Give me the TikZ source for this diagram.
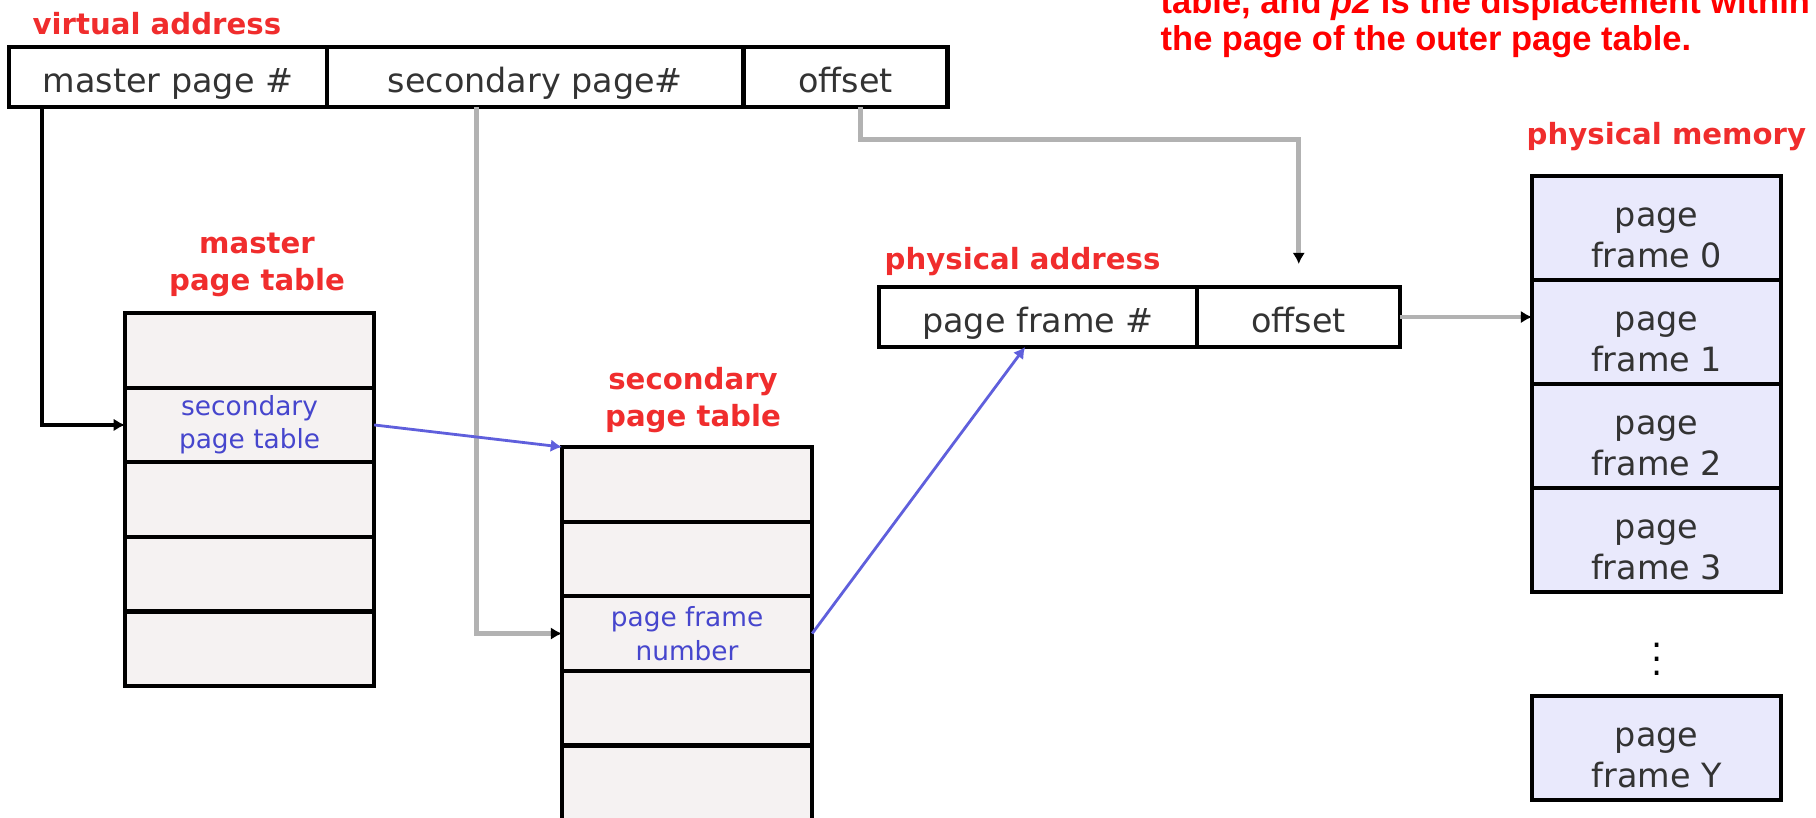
\documentclass[tikz,border=0pt]{standalone}
\usepackage{fontspec}
\setmainfont{DejaVu Sans}
\newfontfamily\notefont{Liberation Sans}
\usetikzlibrary{arrows.meta}

\definecolor{labelred}{RGB}{240,45,45}
\definecolor{notered}{RGB}{255,0,0}
\definecolor{entryblue}{RGB}{70,70,205}
\definecolor{linkblue}{RGB}{95,95,220}
\definecolor{tablefill}{RGB}{245,242,242}
\definecolor{memfill}{RGB}{233,233,252}

\tikzset{
  cell/.style={draw, line width=1.2pt, inner sep=0pt, outer sep=0pt, minimum height=6mm, text height=10.8pt, text depth=2.2pt, anchor=north west, text=black!80, font=\fontsize{9.5}{11.5}\selectfont},
  tabrow/.style={draw, line width=1.2pt, fill=tablefill, inner sep=0pt, outer sep=0pt, minimum width=2.49cm, minimum height=7.46mm, anchor=north west, align=center, text=entryblue, font=\fontsize{7.5}{9.5}\selectfont},
  framebox/.style={draw, line width=1.2pt, fill=memfill, inner sep=0pt, outer sep=0pt, minimum width=2.49cm, minimum height=10.4mm, text height=22.3pt, text depth=0pt, anchor=north west, align=center, text=black!80, font=\fontsize{9.5}{11.5}\selectfont},
  tag/.style={text=labelred, inner sep=0pt, align=center, font=\bfseries\fontsize{8.3}{10.5}\selectfont},
  blkline/.style={draw=black, line width=0.9pt, ->},
  gryline/.style={draw=black!30, line width=1.4pt, -{Latex[length=3.2pt,width=3.6pt,black]}},
  bluline/.style={draw=linkblue, line width=0.8pt, ->},
}

\begin{document}
\begin{tikzpicture}[x=0.01cm, y=-0.01cm, >={Latex[length=3.2pt,width=3.6pt]}]
	\useasboundingbox (0,0) rectangle (1816,817);
	
	% virtual address
	\node[tag, anchor=west] (vatag) at (32,24) {virtual address};
	\node[cell, minimum width=3.18cm] (va1) at (9,47) {master page \#};
	\node[cell, minimum width=4.16cm] (va2) at (va1.north east) {secondary page\#};
	\node[cell, minimum width=2.04cm] (va3) at (va2.north east) {offset};
	
	% master page table
	\node[tag] (mtag) at (257,265) {master\\page table};
	\foreach \i/\txt in {1/{},2/{secondary\\page table},3/{},4/{},5/{}}
	\node[tabrow] (m\i) at (125,{313+(\i-1)*74.6}) {\txt};
	
	% secondary page table
	\node[tag] (stag) at (693,400) {secondary\\page table};
	\foreach \i/\txt in {1/{},2/{},3/{page frame\\number},4/{},5/{}}
	\node[tabrow, minimum width=2.5cm] (s\i) at (562,{447+(\i-1)*74.6}) {\txt};
	
	% physical address
	\node[tag, anchor=west] (patag) at (884,262) {physical address};
	\node[cell, minimum width=3.18cm] (pa1) at (879,287) {page frame \#};
	\node[cell, minimum width=2.03cm] (pa2) at (pa1.north east) {offset};
	
	% physical memory
	\node[tag, anchor=west] (pmtag) at (1526,137) {physical memory};
	\foreach \i in {0,...,3}
	\node[framebox] (f\i) at (1532,{176+\i*104}) {page\\frame \i};
	\node (fdots) at (1657,649) {$\vdots$};
	\node[framebox] (fY) at (1532,696) {page\\frame Y};
	
	% note, cut at the top
	\node[anchor=base west, align=left, text=notered, inner sep=0pt, font=\notefont\bfseries\fontsize{9.8}{10.5}\selectfont] (note) at (1160,50) {table, and \textit{p2} is the displacement within\\the page of the outer page table.};
	
	% draw connectors
	\draw[blkline] ([xshift=3.3mm]va1.south west) |- (m2.west);
	\draw[gryline] ([xshift=14.9mm]va2.south west) |- (s3.west);
	\draw[gryline, shorten >=2.3mm] ([xshift=1.5mm]va3.south) -- ++(0,32) -| (pa2.north);
	\draw[gryline] (pa2.east) -- (pa2.east -| f1.west);
	\draw[bluline] (m2.east) -- (s1.north west);
	\draw[bluline] (s3.east) -- ([xshift=-1.3mm]pa1.south);
\end{tikzpicture}
\end{document}
